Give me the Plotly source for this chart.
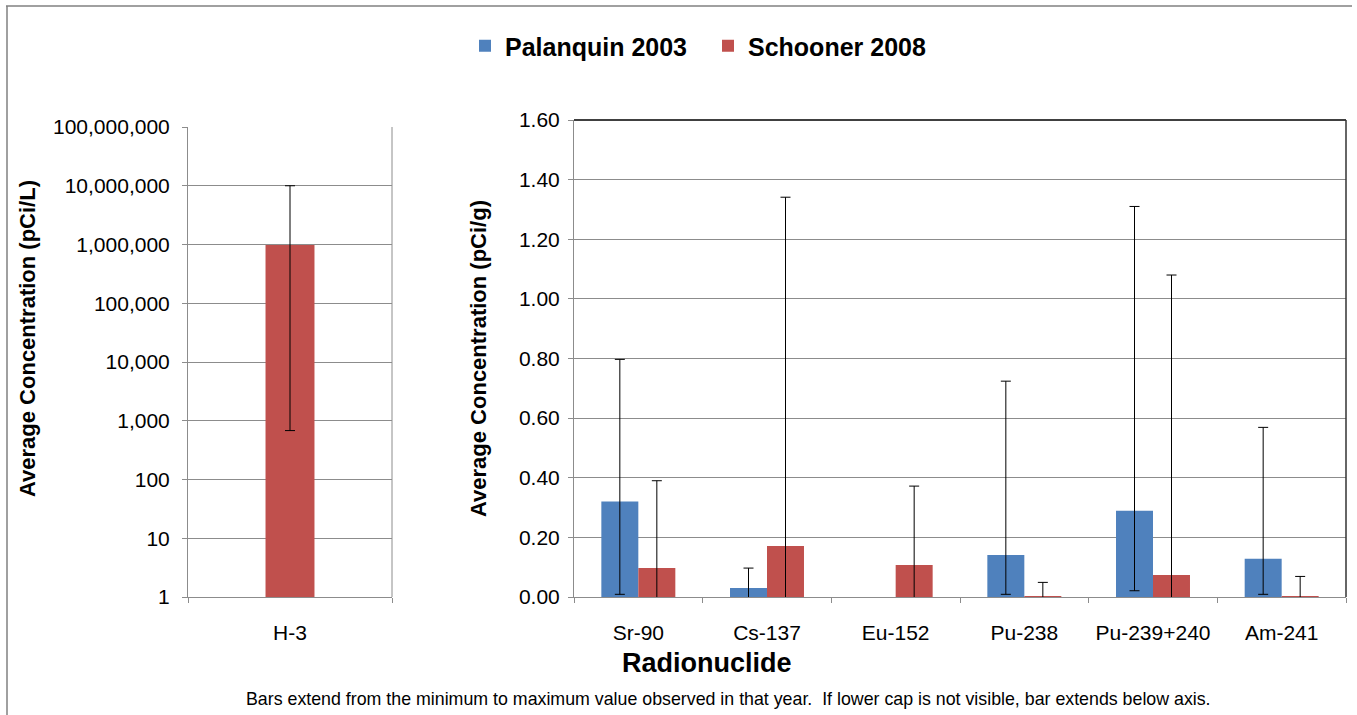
import plotly.graph_objects as go

# ---- data ----
h3_label = ["H-3"]
h3_avg = [980000]
h3_min = [680]
h3_max = [10000000]

nuclides = ["Sr-90", "Cs-137", "Eu-152", "Pu-238", "Pu-239+240", "Am-241"]

palanquin_avg = [0.32, 0.030, None, 0.141, 0.289, 0.128]
palanquin_min = [0.009, -0.05, None, 0.009, 0.021, 0.009]
palanquin_max = [0.797, 0.097, None, 0.724, 1.31, 0.569]

schooner_avg = [0.097, 0.171, 0.107, 0.003, 0.074, 0.003]
schooner_min = [-0.05, -0.10, -0.05, -0.02, -0.05, -0.02]
schooner_max = [0.39, 1.341, 0.372, 0.049, 1.08, 0.069]

BLUE = "#4F81BD"
RED = "#C0504D"
GRID = "#8C8C8C"
FONT = "Liberation Sans, Arial, sans-serif"
W, H = 1357, 715


def px_x(x):
    return x / W


def px_y(y):
    return 1 - y / H


def err(avg, mn, mx):
    plus = [None if a is None else m - a for a, m in zip(avg, mx)]
    minus = [None if a is None else a - m for a, m in zip(avg, mn)]
    return dict(type="data", symmetric=False, array=plus, arrayminus=minus,
                color="black", thickness=1, width=5)


fig = go.Figure()

# tritium (log scale panel)
fig.add_trace(go.Bar(
    x=h3_label, y=h3_avg, marker_color=RED, showlegend=False,
    error_y=err(h3_avg, h3_min, h3_max), xaxis="x", yaxis="y", width=0.24,
))

# other radionuclides (linear panel)
fig.add_trace(go.Bar(
    x=nuclides, y=palanquin_avg, name="Palanquin 2003", marker_color=BLUE,
    error_y=err(palanquin_avg, palanquin_min, palanquin_max),
    xaxis="x2", yaxis="y2",
))
fig.add_trace(go.Bar(
    x=nuclides, y=schooner_avg, name="Schooner 2008", marker_color=RED,
    error_y=err(schooner_avg, schooner_min, schooner_max),
    xaxis="x2", yaxis="y2",
))

tickfont = dict(family=FONT, size=21, color="black")
axis_common = dict(showline=True, linecolor=GRID, linewidth=1,
                   ticks="outside", ticklen=5, tickcolor=GRID,
                   tickfont=tickfont, zeroline=False, automargin=False)

fig.update_layout(
    template="none",
    width=W, height=H, autosize=False,
    margin=dict(l=0, r=0, t=0, b=0, pad=0),
    paper_bgcolor="white", plot_bgcolor="white",
    barmode="group", bargap=0.425, bargroupgap=0,
    font=dict(family=FONT, color="black"),
    showlegend=True,
    legend=dict(orientation="h", x=px_x(465), xanchor="left",
                y=px_y(46), yanchor="middle",
                font=dict(family=FONT, size=25, color="black", weight="bold"),
                itemwidth=30, entrywidth=198, entrywidthmode="pixels",
                traceorder="normal", bgcolor="rgba(0,0,0,0)"),
    xaxis=dict(domain=[px_x(188), px_x(392)], anchor="y", type="category",
               tickson="boundaries", showgrid=False, ticklabelstandoff=17,
               **axis_common),
    yaxis=dict(domain=[px_y(597), px_y(127)], anchor="x", type="log",
               range=[0, 8], dtick=1, tickformat=",.0f",
               showgrid=True, gridcolor=GRID, gridwidth=1,
               ticklabelstandoff=8, **axis_common),
    xaxis2=dict(domain=[px_x(574), px_x(1346)], anchor="y2", type="category",
                tickson="boundaries", showgrid=False, ticklabelstandoff=17,
                **axis_common),
    yaxis2=dict(domain=[px_y(597), px_y(120)], anchor="x2",
                range=[0, 1.6], dtick=0.2, tickformat=".2f",
                showgrid=True, gridcolor=GRID, gridwidth=1,
                ticklabelstandoff=4, **axis_common),
)

shapes = [
    # outer chart frame
    dict(type="line", xref="paper", yref="paper", x0=px_x(6), x1=px_x(1352),
         y0=px_y(6), y1=px_y(6), line=dict(color="#808080", width=1.5)),
    dict(type="line", xref="paper", yref="paper", x0=px_x(7), x1=px_x(7),
         y0=0, y1=px_y(6), line=dict(color="#808080", width=1.5)),
    # right edge of the log panel
    dict(type="line", xref="x domain", yref="y domain", x0=1, x1=1, y0=0, y1=1,
         line=dict(color=GRID, width=1)),
    # plot-area border of the linear panel (top and right)
    dict(type="line", xref="x2 domain", yref="y2 domain", x0=0, x1=1, y0=1, y1=1,
         line=dict(color="black", width=1.5)),
    dict(type="line", xref="x2 domain", yref="y2 domain", x0=1, x1=1, y0=0, y1=1,
         line=dict(color="#333333", width=1.5)),
]
fig.update_layout(shapes=shapes)

title_font = dict(family=FONT, size=22, color="black")
annotations = [
    dict(x=px_x(27), y=px_y(339), text="<b>Average Concentration (pCi/L)</b>",
         textangle=-90, font=title_font),
    dict(x=px_x(478), y=px_y(359), text="<b>Average Concentration (pCi/g)</b>",
         textangle=-90, font=title_font),
    dict(x=px_x(707), y=px_y(663), text="<b>Radionuclide</b>",
         font=dict(family=FONT, size=27, color="black")),
    dict(x=px_x(728), y=px_y(699),
         text="Bars extend from the minimum to maximum value observed in that year.  "
              "If lower cap is not visible, bar extends below axis.",
         font=dict(family=FONT, size=17.8, color="black")),
]
for a in annotations:
    fig.add_annotation(xref="paper", yref="paper", showarrow=False,
                       xanchor="center", yanchor="middle", **a)

fig.write_html("out.html")
